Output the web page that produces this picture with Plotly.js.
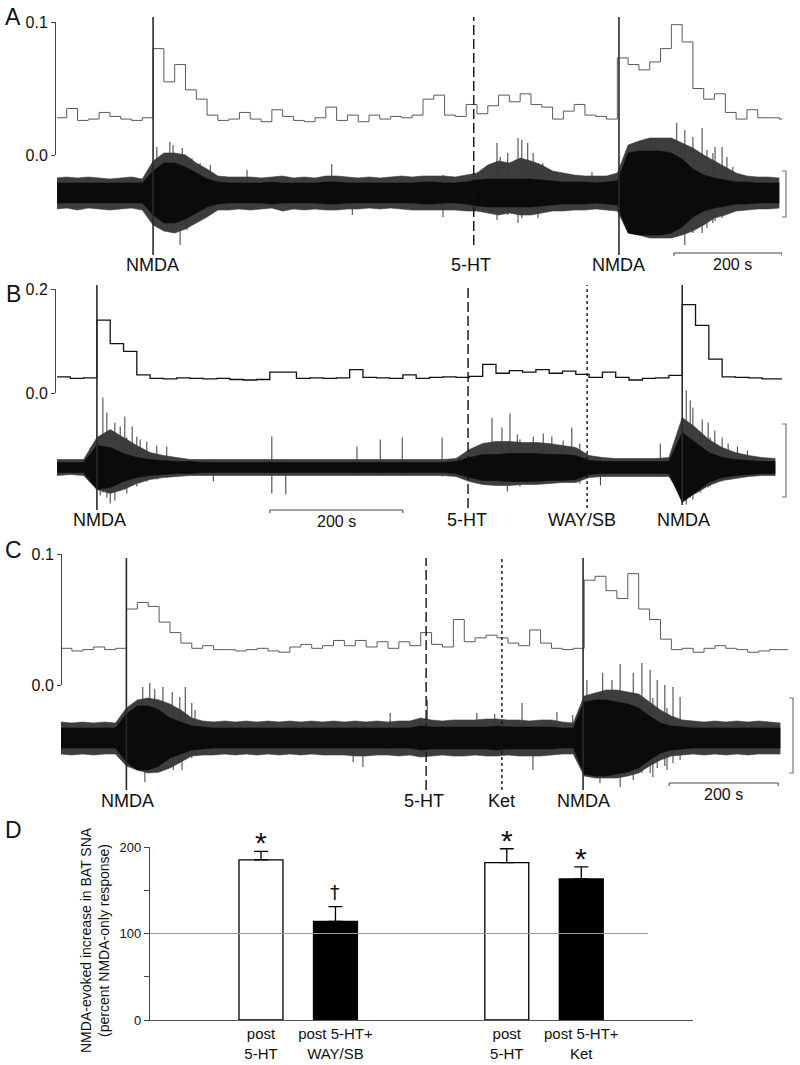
<!DOCTYPE html>
<html lang="en">
<head>
<meta charset="UTF-8">
<title>NMDA-evoked BAT SNA after 5-HT</title>
<script src="https://cdn.plot.ly/plotly-3.0.1.min.js"></script>
<style>
    body { margin: 0; background: white; }
    #chart { width: 800px; height: 1065px; }
</style>
</head>
<body>
<div id="chart"></div>
<script>
// all traces use 20 s bins; histogram = spike rate, envelope = raw BAT SNA (a.u., 0 = baseline)
const binSec = 20;

// Panel A
const histA = [0.028, 0.035, 0.026, 0.027, 0.032, 0.029, 0.027, 0.026, 0.028,
    0.080, 0.055, 0.068, 0.049, 0.042, 0.030, 0.026, 0.027, 0.032, 0.027, 0.025,
    0.034, 0.029, 0.026, 0.025, 0.028, 0.036, 0.026, 0.030, 0.025, 0.030,
    0.027, 0.029, 0.028, 0.030, 0.042, 0.045, 0.030, 0.029, 0.038, 0.031,
    0.037, 0.045, 0.040, 0.046, 0.038, 0.036, 0.027, 0.033, 0.038, 0.030,
    0.029, 0.027, 0.073, 0.068, 0.064, 0.070, 0.080, 0.098, 0.085, 0.050,
    0.042, 0.046, 0.032, 0.027, 0.034, 0.028, 0.028, 0.027];
const outerHiA = [15, 16, 15, 16, 15, 14, 15, 16, 14,
    32, 40, 40, 38, 30, 24, 17, 16, 16, 16, 15,
    16, 17, 15, 16, 15, 17, 17, 16, 15, 16,
    15, 16, 17, 16, 17, 17, 17, 16, 18, 20,
    28, 32, 30, 35, 32, 28, 22, 20, 18, 17,
    17, 17, 20, 48, 52, 55, 55, 55, 50, 45,
    38, 32, 26, 20, 17, 16, 16, 15];
const outerLoA = [-16, -15, -17, -15, -16, -17, -16, -15, -17,
    -32, -38, -40, -36, -30, -24, -17, -17, -16, -17, -16,
    -15, -18, -16, -17, -16, -17, -17, -16, -16, -15,
    -16, -15, -16, -17, -17, -17, -17, -17, -18, -18,
    -20, -22, -20, -22, -22, -20, -18, -18, -17, -17,
    -16, -17, -18, -40, -42, -45, -45, -45, -42, -38,
    -32, -25, -22, -18, -17, -16, -16, -15];
const coreA = [10, 10, 10, 10, 10, 10, 10, 10, 10,
    22, 30, 30, 26, 20, 14, 11, 10, 10, 10, 10,
    11, 10, 10, 10, 10, 11, 11, 10, 10, 10,
    10, 10, 10, 10, 11, 11, 10, 10, 11, 13,
    14, 14, 14, 14, 14, 13, 12, 11, 11, 11,
    10, 11, 12, 40, 42, 42, 42, 40, 34, 24,
    18, 15, 13, 11, 11, 10, 10, 10];
const spikeTimeA = [187, 206, 211, 217, 230, 234, 243, 252, 267, 286,
    354, 511, 549, 717, 817, 823, 837, 856, 863, 874,
    884, 893, 902, 993, 1150, 1165, 1180, 1197, 1206, 1217,
    1221, 1234, 1243, 1254];
const spikeTopA = [46, 40, 51, 48, 38, 45, 30, 35, 30, 28,
    23, 29, 12, 18, 50, 36, 40, 55, 53, 50,
    40, 30, 30, 21, 70, 63, 56, 65, 43, 40,
    46, 46, 36, 26];
const spikeBotA = [-30, -37, -30, -40, -52, -30, -37, -25, -27, -18,
    -12, -10, -22, -24, -27, -20, -22, -30, -25, -22,
    -20, -25, -18, -12, -44, -52, -40, -40, -35, -30,
    -28, -25, -20, -18];
const eventTimesA = [180, 774, 1043];
const eventNamesA = ['NMDA', '5-HT', 'NMDA'];

// Panel B
const histB = [0.031, 0.028, 0.029, 0.140, 0.095, 0.080, 0.035, 0.028, 0.027, 0.029,
    0.028, 0.027, 0.028, 0.026, 0.025, 0.026, 0.040, 0.040, 0.028, 0.029,
    0.028, 0.029, 0.045, 0.030, 0.029, 0.028, 0.035, 0.028, 0.030, 0.031,
    0.030, 0.032, 0.055, 0.038, 0.043, 0.040, 0.045, 0.038, 0.042, 0.036,
    0.030, 0.040, 0.030, 0.025, 0.028, 0.029, 0.034, 0.170, 0.130, 0.065,
    0.031, 0.030, 0.029, 0.027, 0.027];
const outerHiB = [8, 8, 8, 30, 38, 30, 22, 15, 12, 10,
    8, 8, 8, 8, 8, 8, 8, 8, 8, 8,
    8, 8, 8, 8, 8, 8, 8, 8, 8, 8,
    9, 18, 24, 26, 26, 25, 25, 24, 22, 20,
    12, 10, 9, 9, 9, 9, 10, 50, 40, 28,
    20, 15, 12, 10, 9];
const outerLoB = [-8, -7, -8, -22, -26, -22, -16, -12, -10, -9,
    -8, -8, -8, -8, -8, -8, -8, -8, -8, -8,
    -8, -8, -8, -8, -8, -8, -8, -8, -8, -8,
    -9, -14, -17, -18, -18, -17, -17, -16, -15, -15,
    -10, -9, -9, -9, -9, -9, -9, -30, -26, -18,
    -13, -11, -9, -8, -8];
const coreB = [5, 5, 5, 22, 20, 14, 10, 8, 7, 6,
    6, 5, 5, 5, 5, 5, 5, 5, 5, 5,
    5, 5, 5, 5, 5, 5, 5, 5, 5, 5,
    6, 10, 13, 13, 14, 14, 14, 13, 13, 12,
    7, 6, 6, 6, 6, 6, 6, 35, 25, 15,
    10, 8, 7, 6, 6];
const spikeTimeB = [50, 65, 69, 75, 80, 87, 95, 102, 105, 113,
    120, 125, 135, 150, 165, 235, 323, 344, 451, 486,
    519, 579, 632, 654, 669, 677, 681, 692, 696, 716,
    731, 744, 761, 774, 786, 817, 907, 946, 952, 956,
    967, 970, 979, 982, 989, 1000, 1009, 1023, 1038];
const spikeTopB = [20, 30, 70, 55, 35, 45, 41, 51, 30, 41,
    31, 28, 26, 22, 21, 8, 31, 8, 21, 28,
    30, 30, 15, 50, 40, 25, 54, 33, 28, 31,
    34, 31, 27, 40, 24, 8, 24, 77, 67, 60,
    35, 48, 45, 30, 37, 30, 24, 21, 17];
const spikeBotB = [-8, -28, -25, -30, -36, -33, -20, -22, -26, -18,
    -19, -15, -14, -12, -10, -14, -26, -27, -8, -8,
    -8, -9, -13, -15, -16, -24, -18, -14, -19, -15,
    -14, -13, -13, -12, -16, -18, -9, -37, -30, -32,
    -25, -22, -20, -19, -16, -14, -12, -10, -9];
const eventTimesB = [60, 618, 797, 940];
const eventNamesB = ['NMDA', '5-HT', 'WAY/SB', 'NMDA'];

// Panel C
const histC = [0.028, 0.026, 0.027, 0.029, 0.027, 0.028,
    0.058, 0.063, 0.060, 0.048, 0.040, 0.032, 0.028, 0.030, 0.027, 0.027, 0.026, 0.027, 0.028, 0.026,
    0.025, 0.029, 0.031, 0.028, 0.030, 0.034, 0.030, 0.034, 0.029, 0.033,
    0.028, 0.033, 0.030, 0.040, 0.031, 0.029, 0.050, 0.033, 0.036, 0.038,
    0.036, 0.032, 0.030, 0.042, 0.032, 0.028, 0.027, 0.028, 0.080, 0.083,
    0.072, 0.066, 0.085, 0.058, 0.050, 0.035, 0.027, 0.028, 0.025, 0.028,
    0.030, 0.028, 0.027, 0.025, 0.026, 0.027, 0.027];
const outerHiC = [16, 15, 16, 15, 16, 15,
    30, 38, 40, 38, 34, 28, 20, 17, 16, 17, 16, 17, 16, 17,
    16, 17, 16, 17, 16, 17, 16, 17, 16, 17,
    16, 17, 17, 20, 18, 17, 18, 18, 18, 19,
    19, 18, 18, 17, 18, 18, 16, 15, 42, 45,
    48, 48, 46, 44, 36, 28, 22, 18, 17, 16,
    17, 16, 17, 16, 17, 16, 15];
const outerLoC = [-16, -17, -16, -17, -16, -16,
    -28, -32, -35, -34, -30, -24, -18, -17, -17, -16, -17, -16, -17, -16,
    -17, -16, -17, -16, -17, -17, -17, -18, -18, -17,
    -17, -18, -17, -19, -18, -17, -18, -18, -17, -18,
    -18, -17, -18, -18, -18, -17, -16, -16, -38, -40,
    -40, -40, -38, -35, -28, -22, -18, -17, -16, -17,
    -16, -17, -16, -17, -16, -16, -16];
const coreC = [10, 10, 10, 10, 10, 10,
    24, 32, 32, 28, 20, 16, 12, 11, 10, 10, 10, 10, 10, 10,
    10, 10, 10, 10, 10, 10, 10, 10, 10, 10,
    10, 10, 10, 12, 11, 11, 11, 11, 11, 11,
    12, 11, 11, 11, 11, 11, 10, 10, 36, 38,
    38, 36, 34, 30, 22, 15, 12, 11, 10, 10,
    10, 10, 10, 10, 10, 10, 10];
const spikeTimeC = [150, 154, 163, 172, 176, 187, 204, 206, 218, 222,
    228, 240, 246, 536, 554, 604, 672, 763, 796, 846,
    866, 910, 939, 965, 989, 994, 1011, 1026, 1050, 1066,
    1081, 1086, 1094, 1108, 1112, 1123, 1136];
const spikeTopC = [51, 30, 55, 49, 30, 51, 46, 25, 41, 25,
    51, 35, 28, 12, 12, 25, 38, 25, 24, 35,
    12, 26, 23, 58, 40, 65, 58, 74, 65, 75,
    68, 40, 58, 53, 30, 51, 41];
const spikeBotC = [-30, -44, -30, -28, -35, -28, -25, -32, -25, -32,
    -22, -20, -18, -24, -29, -12, -18, -12, -12, -14,
    -32, -12, -12, -35, -45, -35, -35, -49, -42, -35,
    -35, -39, -30, -28, -32, -25, -22];
const eventTimesC = [120, 670, 809, 958];
const eventNamesC = ['NMDA', '5-HT', 'Ket', 'NMDA'];

// Panel D
const barLabels = ['post<br>5-HT', 'post 5-HT+<br>WAY/SB', 'post<br>5-HT', 'post 5-HT+<br>Ket'];
const barMean = [185, 114, 182, 163];
const barErr = [10, 17, 16, 14];
const barSig = ['*', '†', '*', '*'];

// ---- layout helpers (page pixels -> paper fractions)
const W = 800, H = 1065;
const fx = px => px / W;
const fy = px => 1 - px / H;
const font = 'Liberation Sans, Arial, sans-serif';
const ink = '#111';

const dashFor = { 'NMDA': 'solid', '5-HT': '10px,4px', 'WAY/SB': '3px,3px', 'Ket': '3px,3px' };

const traces = [];
const shapes = [];
const annotations = [];

function addPanel(p) {
    const t = p.hist.map((_, i) => i * binSec);
    // histogram as a step line
    traces.push({
        x: t.concat([t.length * binSec]), y: p.hist.concat([p.hist[p.hist.length - 1]]),
        xaxis: p.x, yaxis: p.yh, type: 'scatter', mode: 'lines',
        line: { shape: 'hv', color: p.histColor, width: p.histWidth }, hoverinfo: 'skip'
    });
    // raw nerve trace: grey fringe, single large spikes, black dense core on top
    const te = p.hi.map((_, i) => i * binSec);
    traces.push({ x: te, y: p.hi, xaxis: p.x, yaxis: p.yt, mode: 'lines',
        line: { color: '#3d3d3d', width: 0.6 }, hoverinfo: 'skip' });
    traces.push({ x: te, y: p.lo, xaxis: p.x, yaxis: p.yt, mode: 'lines', fill: 'tonexty',
        fillcolor: '#3d3d3d', line: { color: '#3d3d3d', width: 0.6 }, hoverinfo: 'skip' });
    const sx = [], sy = [];
    p.spikeT.forEach((v, i) => { sx.push(v, v, null); sy.push(p.spikeBot[i], p.spikeTop[i], null); });
    traces.push({ x: sx, y: sy, xaxis: p.x, yaxis: p.yt, mode: 'lines',
        line: { color: '#3a3a3a', width: 1 }, hoverinfo: 'skip' });
    traces.push({ x: te, y: p.core, xaxis: p.x, yaxis: p.yt, mode: 'lines',
        line: { color: '#0b0b0b', width: 0.6 }, hoverinfo: 'skip' });
    traces.push({ x: te, y: p.core.map(v => -v), xaxis: p.x, yaxis: p.yt, mode: 'lines', fill: 'tonexty',
        fillcolor: '#0b0b0b', line: { color: '#0b0b0b', width: 0.6 }, hoverinfo: 'skip' });

    // drug application markers
    p.events.forEach((ev, i) => {
        const name = p.names[i];
        shapes.push({
            type: 'line', xref: p.x, yref: 'paper', x0: ev, x1: ev,
            y0: fy(p.evBottom[i]), y1: fy(p.evTop),
            line: { color: name === 'NMDA' ? '#2a2a2a' : ink, width: name === 'NMDA' ? 1.6 : 1.4, dash: dashFor[name] }
        });
        annotations.push({
            xref: p.x, yref: 'paper', x: ev + p.labelShift[i], y: fy(p.labelY), text: name,
            showarrow: false, xanchor: 'center', yanchor: 'middle',
            font: { family: font, size: 18, color: ink }
        });
    });

    // 200 s scale bar
    const sb = p.scaleBar;
    shapes.push({ type: 'line', xref: p.x, yref: 'paper', x0: sb, x1: sb + 200,
        y0: fy(p.scaleY), y1: fy(p.scaleY), line: { color: '#444', width: 1 } });
    [sb, sb + 200].forEach(v => shapes.push({ type: 'line', xref: p.x, yref: 'paper', x0: v, x1: v,
        y0: fy(p.scaleY), y1: fy(p.scaleY + 3), line: { color: '#444', width: 1 } }));
    annotations.push({ xref: p.x, yref: 'paper', x: sb + 100 + p.scaleLabelShift, y: fy(p.scaleY + 11), text: '200 s',
        showarrow: false, xanchor: 'center', yanchor: 'middle', font: { family: font, size: 16, color: ink } });

    // amplitude bracket on the right
    const b = p.bracket;
    shapes.push({ type: 'path', xref: 'paper', yref: 'paper',
        path: `M ${fx(b[0] - 4)},${fy(b[1])} L ${fx(b[0])},${fy(b[1])} L ${fx(b[0])},${fy(b[2])} L ${fx(b[0] - 4)},${fy(b[2])}`,
        line: { color: '#777', width: 1.2 } });

    // panel letter
    annotations.push({ xref: 'paper', yref: 'paper', x: fx(13), y: fy(p.letterY), text: p.letter,
        showarrow: false, xanchor: 'center', yanchor: 'middle', font: { family: font, size: 23, color: ink } });
}

function histAxis(domTop, domBottom, top, pos, topLabel) {
    return {
        domain: [fy(domBottom), fy(domTop)], range: [0, top], anchor: 'free', position: fx(pos),
        showline: true, linecolor: '#444', linewidth: 1.2, ticks: 'outside', ticklen: 4,
        tickcolor: '#444', tickvals: [0, top], ticktext: ['0.0', topLabel],
        tickfont: { family: font, size: 16, color: ink }, showgrid: false, zeroline: false
    };
}

addPanel({
    letter: 'A', letterY: 17, x: 'x', yh: 'y', yt: 'y2',
    hist: histA, hi: outerHiA, lo: outerLoA, core: coreA, histColor: '#5a5a5a', histWidth: 1,
    spikeT: spikeTimeA, spikeTop: spikeTopA, spikeBot: spikeBotA,
    events: eventTimesA, names: eventNamesA, evTop: 17, evBottom: [255, 245, 255], labelY: 265,
    labelShift: [-2, -5, 0], scaleBar: 1145, scaleY: 253, scaleLabelShift: 8, bracket: [786, 171, 217]
});
addPanel({
    letter: 'B', letterY: 294, x: 'x2', yh: 'y3', yt: 'y4',
    hist: histB, hi: outerHiB, lo: outerLoB, core: coreB, histColor: '#111', histWidth: 1.3,
    spikeT: spikeTimeB, spikeTop: spikeTopB, spikeBot: spikeBotB,
    events: eventTimesB, names: eventNamesB, evTop: 285, evBottom: [510, 508, 508, 505], labelY: 520,
    labelShift: [4, -2, -7, 2], scaleBar: 320, scaleY: 510, scaleLabelShift: 0, bracket: [786, 424, 497]
});
addPanel({
    letter: 'C', letterY: 550, x: 'x3', yh: 'y5', yt: 'y6',
    hist: histC, hi: outerHiC, lo: outerLoC, core: coreC, histColor: '#5a5a5a', histWidth: 1,
    spikeT: spikeTimeC, spikeTop: spikeTopC, spikeBot: spikeBotC,
    events: eventTimesC, names: eventNamesC, evTop: 558, evBottom: [790, 790, 790, 790], labelY: 801,
    labelShift: [2, -4, -1, 0], scaleBar: 1116, scaleY: 783, scaleLabelShift: 0, bracket: [793, 698, 773]
});

// Panel D bars
const barPos = [1, 2, 4.3, 5.3];
traces.push({
    type: 'bar', x: barPos, y: barMean, xaxis: 'x4', yaxis: 'y7', width: 0.59,
    marker: { color: ['white', 'black', 'white', 'black'], line: { color: '#000', width: 1.3 } },
    error_y: { type: 'data', symmetric: false, array: barErr, arrayminus: barErr.map(() => 0),
        color: '#000', thickness: 1.3, width: 7 },
    hoverinfo: 'skip'
});
barSig.forEach((s, i) => {
    const star = s === '*';
    annotations.push({
        xref: 'x4', yref: 'y7', x: barPos[i], y: barMean[i] + barErr[i], text: s, showarrow: false,
        xanchor: 'center', yanchor: star ? 'bottom' : 'middle', yshift: star ? -10 : 15,
        font: { family: star ? font : 'DejaVu Sans, sans-serif', size: star ? 30 : 19, color: ink }
    });
});
shapes.push({ type: 'line', xref: 'paper', yref: 'y7', x0: fx(150), x1: fx(648), y0: 100, y1: 100,
    layer: 'above', line: { color: '#9a9a9a', width: 1.2 } });
annotations.push({ xref: 'paper', yref: 'paper', x: fx(13), y: fy(830), text: 'D', showarrow: false,
    xanchor: 'center', yanchor: 'middle', font: { family: font, size: 23, color: ink } });
annotations.push({ xref: 'paper', yref: 'paper', x: fx(95), y: fy(940), textangle: -90,
    text: 'NMDA-evoked increase in BAT SNA<br>(percent NMDA-only response)', showarrow: false,
    xanchor: 'center', yanchor: 'middle', font: { family: font, size: 14, color: ink } });

const hidden = { visible: false, showgrid: false, zeroline: false, fixedrange: true };

const layout = {
    width: W, height: H, margin: { l: 0, r: 0, t: 0, b: 0 },
    paper_bgcolor: 'white', plot_bgcolor: 'rgba(0,0,0,0)', showlegend: false,
    font: { family: font, color: ink },
    xaxis: Object.assign({ domain: [fx(57), fx(782)], range: [2, 1345], anchor: 'y2' }, hidden),
    yaxis: histAxis(22, 155, 0.1, 55, '0.1'),
    yaxis2: Object.assign({ domain: [fy(260), fy(118)], range: [-67, 75], anchor: 'x' }, hidden),
    xaxis2: Object.assign({ domain: [fx(57), fx(782)], range: [0, 1090], anchor: 'y4' }, hidden),
    yaxis3: histAxis(289, 393, 0.2, 55, '0.2'),
    yaxis4: Object.assign({ domain: [fy(520), fy(385)], range: [-52.5, 82.5], anchor: 'x2' }, hidden),
    xaxis3: Object.assign({ domain: [fx(61), fx(788)], range: [0, 1334], anchor: 'y6' }, hidden),
    yaxis5: histAxis(554, 685, 0.1, 61, '0.1'),
    yaxis6: Object.assign({ domain: [fy(795), fy(660)], range: [-57, 78], anchor: 'x3' }, hidden),
    xaxis4: {
        domain: [fx(150), fx(693)], range: [-0.49, 6.8], anchor: 'y7',
        showline: true, linecolor: '#555', linewidth: 1.2, ticks: '',
        tickvals: barPos, ticktext: barLabels, tickfont: { family: font, size: 15, color: ink },
        showgrid: false, zeroline: false
    },
    yaxis7: {
        domain: [fy(1020), fy(847)], range: [0, 200], anchor: 'x4',
        showline: true, linecolor: '#444', linewidth: 1.2, ticks: 'outside', ticklen: 5, tickcolor: '#444',
        tickvals: [0, 50, 100, 150, 200], ticktext: ['0', '', '100', '', '200'],
        tickfont: { family: font, size: 13, color: ink }, showgrid: false, zeroline: false
    },
    shapes: shapes,
    annotations: annotations
};

Plotly.newPlot('chart', traces, layout, { staticPlot: true, displayModeBar: false });
</script>
</body>
</html>
